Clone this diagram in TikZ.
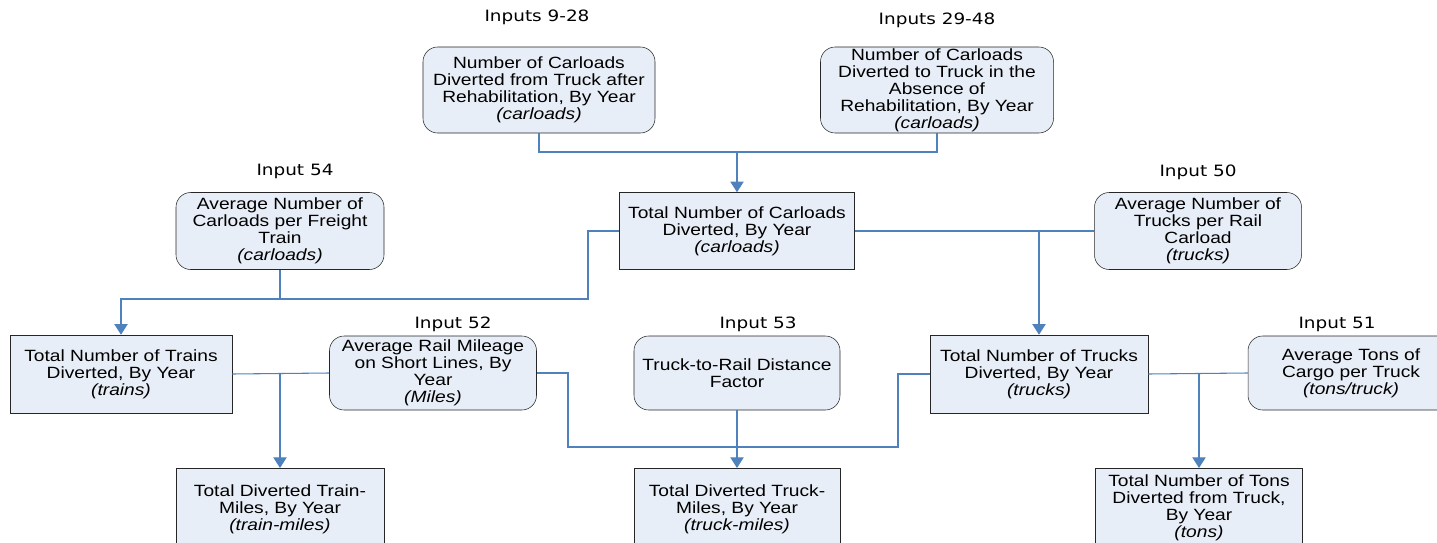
\documentclass[tikz,border=0pt]{standalone}
\usepackage{fontspec}
\setmainfont[FakeStretch=1.18]{Liberation Sans}
\newfontfamily\headfont[FakeStretch=1.18]{DejaVu Sans}
\usepackage{tikz}
\usetikzlibrary{arrows.meta}
\definecolor{boxfill}{HTML}{E8EEF7}
\definecolor{wireblue}{HTML}{4F81BD}
\tikzset{
  flowbox/.style={draw=black!85,fill=boxfill,align=center,inner sep=1pt,
    font=\fontsize{12.2}{12.75}\selectfont},
  inbox/.style={flowbox,rounded corners=11pt},
  boxsize/.style 2 args={minimum width=#1*0.75pt,minimum height=#2*0.75pt},
  inlabel/.style={font=\headfont\fontsize{11.7}{13}\selectfont},
  wire/.style={draw=wireblue,line width=0.8pt},
  tip/.style={-{Triangle[width=10pt,length=8pt]}}
}

\begin{document}
\begin{tikzpicture}[x=0.75pt,y=-0.75pt]
  \useasboundingbox (0,0) rectangle (1437,542);
  \clip (0,0) rectangle (1437,542);
   \coordinate (top) at (737,152);
   \coordinate (lbend) at (588,299);
   \coordinate (mbend) at (568,447);
   \coordinate (rbend) at (898,447);
  % input labels
  \node[inlabel] (l928)  at (537,17)  {Inputs 9-28};
  \node[inlabel] (l2948) at (937,20)  {Inputs 29-48};
  \node[inlabel] (l54)   at (295,171) {Input 54};
  \node[inlabel] (l50)   at (1198,172) {Input 50};
  \node[inlabel] (l52)   at (453,324) {Input 52};
  \node[inlabel] (l53)   at (758,324) {Input 53};
  \node[inlabel] (l51)   at (1337,324) {Input 51};
  % input boxes
  \node[inbox,boxsize={232}{86}] (cfrom) at (539,90)
     {Number of Carloads\\Diverted from Truck after\\Rehabilitation, By Year\\\textit{(carloads)}};
  \node[inbox,boxsize={233}{86}] (cto) at (937,90)
     {Number of Carloads\\Diverted to Truck in the\\Absence of\\Rehabilitation, By Year\\\textit{(carloads)}};
  \node[inbox,boxsize={208}{77}] (cpt) at (280,231)
     {Average Number of\\Carloads per Freight\\Train\\\textit{(carloads)}};
  \node[inbox,boxsize={207}{77}] (tpc) at (1198,231)
     {Average Number of\\Trucks per Rail\\Carload\\\textit{(trucks)}};
  \node[inbox,boxsize={207}{74}] (mile) at (433,373)
     {Average Rail Mileage\\on Short Lines, By\\Year\\\textit{(Miles)}};
  \node[inbox,boxsize={206}{74}] (dist) at (737,373)
     {Truck-to-Rail Distance\\Factor};
  \node[inbox,boxsize={206}{74}] (tons) at (1351,373)
     {Average Tons of\\Cargo per Truck\\\textit{(tons/truck)}};
  % calculated boxes
  \node[flowbox,boxsize={235}{77}] (cars) at (737,231)
     {Total Number of Carloads\\Diverted, By Year\\\textit{(carloads)}};
  \node[flowbox,boxsize={222}{78}] (trains) at (121,374)
     {Total Number of Trains\\Diverted, By Year\\\textit{(trains)}};
  \node[flowbox,boxsize={218}{78}] (trucks) at (1039,374)
     {Total Number of Trucks\\Diverted, By Year\\\textit{(trucks)}};
  \node[flowbox,boxsize={208}{80},anchor=north] (trmi) at (280,468)
     {\\[-2pt]Total Diverted Train-\\Miles, By Year\\\textit{(train-miles)}};
  \node[flowbox,boxsize={206}{80},anchor=north] (tkmi) at (737,468)
     {\\[-2pt]Total Diverted Truck-\\Miles, By Year\\\textit{(truck-miles)}};
  \node[flowbox,boxsize={207}{80},anchor=north] (tdiv) at (1199,468)
     {Total Number of Tons\\Diverted from Truck,\\By Year\\\textit{(tons)}};
  % connectors
 \draw[wire] (cfrom.south) |- (top) -| (cto.south);
 \draw[wire,tip] (top) -- (cars.north);
 \draw[wire,tip] (cars.west) -| (lbend) -| (trains.north);
 \draw[wire] (cpt.south) -- (cpt.south |- lbend);
 \draw[wire] (cars.east) -- (tpc.west);
 \draw[wire,tip] (cars.east -| trucks.north) -- (trucks.north);
 \draw[wire] (trains.east) -- (mile.west);
 \draw[wire,tip] (trains.east -| trmi.north) -- (trmi.north);
 \draw[wire] (mile.east) -| (mbend) -- (rbend) |- (trucks.west);
 \draw[wire,tip] (dist.south) -- (tkmi.north);
 \draw[wire] (trucks.east) -- (tons.west);
 \draw[wire,tip] (trucks.east -| tdiv.north) -- (tdiv.north);
\end{tikzpicture}
\end{document}
